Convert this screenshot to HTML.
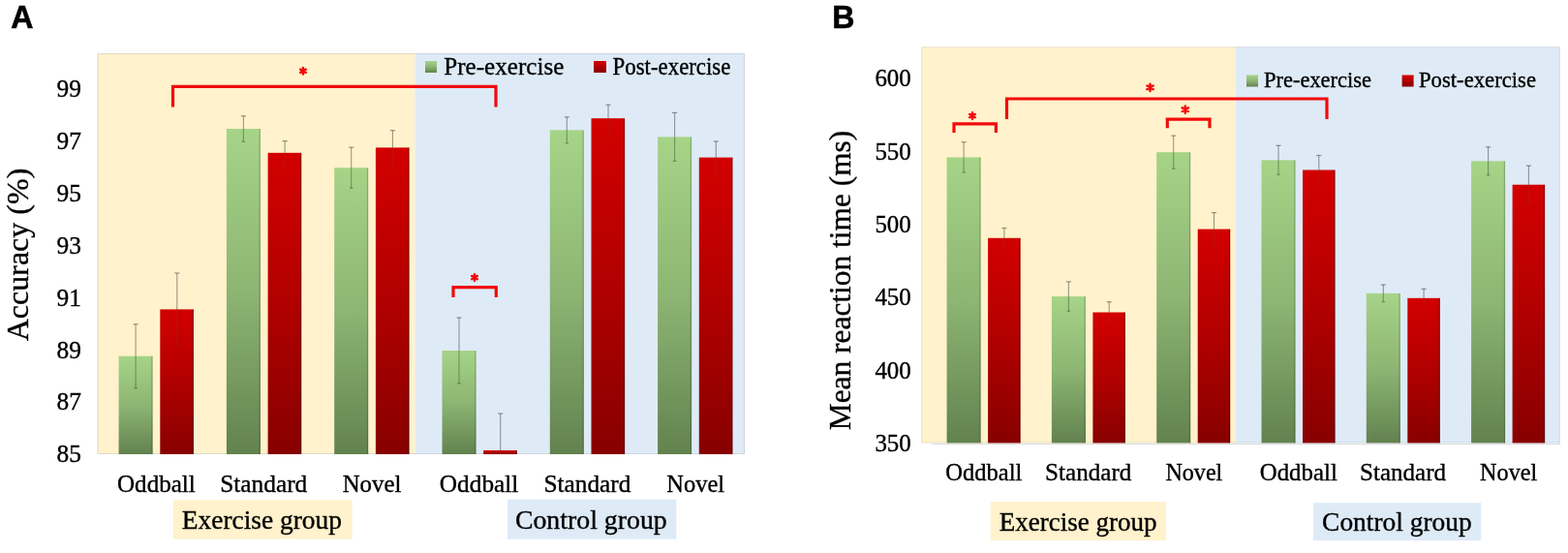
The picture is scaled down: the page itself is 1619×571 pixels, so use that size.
<!DOCTYPE html>
<html><head><meta charset="utf-8"><title>Figure</title>
<style>html,body{margin:0;padding:0;background:#fff;}body{width:1619px;height:571px;overflow:hidden;}svg{display:block;}</style>
</head><body>
<svg width="1619" height="571" viewBox="0 0 1619 571">
<defs>
<linearGradient id="gg" x1="0" y1="0" x2="0" y2="1"><stop offset="0" stop-color="#a6d487"/><stop offset="0.5" stop-color="#8db573"/><stop offset="1" stop-color="#62824f"/></linearGradient>
<linearGradient id="rg" x1="0" y1="0" x2="0" y2="1"><stop offset="0" stop-color="#d30000"/><stop offset="0.5" stop-color="#b10000"/><stop offset="1" stop-color="#870000"/></linearGradient>
</defs>
<rect width="1619" height="571" fill="#fff"/>
<text x="11.2" y="29.1" font-size="33" font-family="'Liberation Sans',Arial,sans-serif" font-weight="bold" fill="#000" text-anchor="start" textLength="23.2" lengthAdjust="spacingAndGlyphs" stroke="#000" stroke-width="0.6" >A</text>
<rect x="100.5" y="55" width="328.0" height="414" fill="#fff2cc"/>
<rect x="428.5" y="55" width="340.5" height="414" fill="#deebf7"/>
<rect x="101.0" y="55.5" width="667.5" height="413" fill="none" stroke="#b8bcc0" stroke-opacity="0.45" stroke-width="1"/>
<text x="84.0" y="477.3" font-size="25" font-family="'Liberation Serif','Times New Roman',serif" font-weight="normal" fill="#000" text-anchor="end" textLength="25.4" lengthAdjust="spacingAndGlyphs" stroke="#000" stroke-width="0.35" >85</text>
<text x="84.0" y="423.4" font-size="25" font-family="'Liberation Serif','Times New Roman',serif" font-weight="normal" fill="#000" text-anchor="end" textLength="25.4" lengthAdjust="spacingAndGlyphs" stroke="#000" stroke-width="0.35" >87</text>
<text x="84.0" y="369.6" font-size="25" font-family="'Liberation Serif','Times New Roman',serif" font-weight="normal" fill="#000" text-anchor="end" textLength="25.4" lengthAdjust="spacingAndGlyphs" stroke="#000" stroke-width="0.35" >89</text>
<text x="84.0" y="315.7" font-size="25" font-family="'Liberation Serif','Times New Roman',serif" font-weight="normal" fill="#000" text-anchor="end" textLength="25.4" lengthAdjust="spacingAndGlyphs" stroke="#000" stroke-width="0.35" >91</text>
<text x="84.0" y="261.9" font-size="25" font-family="'Liberation Serif','Times New Roman',serif" font-weight="normal" fill="#000" text-anchor="end" textLength="25.4" lengthAdjust="spacingAndGlyphs" stroke="#000" stroke-width="0.35" >93</text>
<text x="84.0" y="208.0" font-size="25" font-family="'Liberation Serif','Times New Roman',serif" font-weight="normal" fill="#000" text-anchor="end" textLength="25.4" lengthAdjust="spacingAndGlyphs" stroke="#000" stroke-width="0.35" >95</text>
<text x="84.0" y="154.1" font-size="25" font-family="'Liberation Serif','Times New Roman',serif" font-weight="normal" fill="#000" text-anchor="end" textLength="25.4" lengthAdjust="spacingAndGlyphs" stroke="#000" stroke-width="0.35" >97</text>
<text x="84.0" y="100.3" font-size="25" font-family="'Liberation Serif','Times New Roman',serif" font-weight="normal" fill="#000" text-anchor="end" textLength="25.4" lengthAdjust="spacingAndGlyphs" stroke="#000" stroke-width="0.35" >99</text>
<text x="0.0" y="0.0" font-size="32" font-family="'Liberation Serif','Times New Roman',serif" font-weight="normal" fill="#000" text-anchor="middle" textLength="178.6" lengthAdjust="spacingAndGlyphs" stroke="#000" stroke-width="0.35" transform="translate(28.8,263.0) rotate(-90)">Accuracy (%)</text>
<rect x="122.6" y="367.7" width="35.0" height="101.3" fill="url(#gg)"/>
<rect x="156.3" y="367.7" width="1.3" height="101.3" fill="#000" fill-opacity="0.18"/>
<rect x="165.3" y="319.4" width="34.6" height="149.6" fill="url(#rg)"/>
<rect x="198.6" y="319.4" width="1.3" height="149.6" fill="#000" fill-opacity="0.3"/>
<g stroke="#000" stroke-opacity="0.38" stroke-width="1.1"><line x1="140.1" y1="334.7" x2="140.1" y2="367.7"/><line x1="140.1" y1="367.7" x2="140.1" y2="400.7" stroke="#000" stroke-opacity="0.3"/><line x1="137.5" y1="334.7" x2="142.7" y2="334.7" stroke-width="1.2"/><line x1="138.3" y1="400.7" x2="141.9" y2="400.7" stroke-width="1.2" stroke="#000" stroke-opacity="0.3"/></g>
<g stroke="#000" stroke-opacity="0.38" stroke-width="1.1"><line x1="182.8" y1="282.0" x2="182.8" y2="319.4"/><line x1="182.8" y1="319.4" x2="182.8" y2="356.8" stroke="#555" stroke-opacity="0.2"/><line x1="180.2" y1="282.0" x2="185.4" y2="282.0" stroke-width="1.2"/><line x1="181.0" y1="356.8" x2="184.6" y2="356.8" stroke-width="1.2" stroke="#555" stroke-opacity="0.2"/></g>
<rect x="233.9" y="133.0" width="35.0" height="336.0" fill="url(#gg)"/>
<rect x="267.6" y="133.0" width="1.3" height="336.0" fill="#000" fill-opacity="0.18"/>
<rect x="276.6" y="157.8" width="34.6" height="311.2" fill="url(#rg)"/>
<rect x="309.9" y="157.8" width="1.3" height="311.2" fill="#000" fill-opacity="0.3"/>
<g stroke="#000" stroke-opacity="0.38" stroke-width="1.1"><line x1="251.4" y1="119.7" x2="251.4" y2="133.0"/><line x1="251.4" y1="133.0" x2="251.4" y2="146.3" stroke="#000" stroke-opacity="0.3"/><line x1="248.8" y1="119.7" x2="254.0" y2="119.7" stroke-width="1.2"/><line x1="249.6" y1="146.3" x2="253.2" y2="146.3" stroke-width="1.2" stroke="#000" stroke-opacity="0.3"/></g>
<g stroke="#000" stroke-opacity="0.38" stroke-width="1.1"><line x1="294.1" y1="145.6" x2="294.1" y2="157.8"/><line x1="294.1" y1="157.8" x2="294.1" y2="170.0" stroke="#555" stroke-opacity="0.2"/><line x1="291.5" y1="145.6" x2="296.7" y2="145.6" stroke-width="1.2"/><line x1="292.3" y1="170.0" x2="295.9" y2="170.0" stroke-width="1.2" stroke="#555" stroke-opacity="0.2"/></g>
<rect x="345.2" y="173.2" width="35.0" height="295.8" fill="url(#gg)"/>
<rect x="378.9" y="173.2" width="1.3" height="295.8" fill="#000" fill-opacity="0.18"/>
<rect x="387.9" y="152.4" width="34.6" height="316.6" fill="url(#rg)"/>
<rect x="421.2" y="152.4" width="1.3" height="316.6" fill="#000" fill-opacity="0.3"/>
<g stroke="#000" stroke-opacity="0.38" stroke-width="1.1"><line x1="362.7" y1="152.2" x2="362.7" y2="173.2"/><line x1="362.7" y1="173.2" x2="362.7" y2="194.2" stroke="#000" stroke-opacity="0.3"/><line x1="360.1" y1="152.2" x2="365.3" y2="152.2" stroke-width="1.2"/><line x1="360.9" y1="194.2" x2="364.5" y2="194.2" stroke-width="1.2" stroke="#000" stroke-opacity="0.3"/></g>
<g stroke="#000" stroke-opacity="0.38" stroke-width="1.1"><line x1="405.4" y1="134.7" x2="405.4" y2="152.4"/><line x1="405.4" y1="152.4" x2="405.4" y2="170.1" stroke="#555" stroke-opacity="0.2"/><line x1="402.8" y1="134.7" x2="408.0" y2="134.7" stroke-width="1.2"/><line x1="403.6" y1="170.1" x2="407.2" y2="170.1" stroke-width="1.2" stroke="#555" stroke-opacity="0.2"/></g>
<rect x="456.5" y="362.0" width="35.0" height="107.0" fill="url(#gg)"/>
<rect x="490.2" y="362.0" width="1.3" height="107.0" fill="#000" fill-opacity="0.18"/>
<rect x="499.2" y="465.0" width="34.6" height="4.0" fill="url(#rg)"/>
<rect x="532.5" y="465.0" width="1.3" height="4.0" fill="#000" fill-opacity="0.3"/>
<g stroke="#000" stroke-opacity="0.38" stroke-width="1.1"><line x1="474.0" y1="328.0" x2="474.0" y2="362.0"/><line x1="474.0" y1="362.0" x2="474.0" y2="396.0" stroke="#000" stroke-opacity="0.3"/><line x1="471.4" y1="328.0" x2="476.6" y2="328.0" stroke-width="1.2"/><line x1="472.2" y1="396.0" x2="475.8" y2="396.0" stroke-width="1.2" stroke="#000" stroke-opacity="0.3"/></g>
<g stroke="#000" stroke-opacity="0.38" stroke-width="1.1"><line x1="516.7" y1="427.0" x2="516.7" y2="465.0"/><line x1="516.7" y1="465.0" x2="516.7" y2="469.0" stroke="#555" stroke-opacity="0.2"/><line x1="514.1" y1="427.0" x2="519.3" y2="427.0" stroke-width="1.2"/></g>
<rect x="567.8" y="134.3" width="35.0" height="334.7" fill="url(#gg)"/>
<rect x="601.5" y="134.3" width="1.3" height="334.7" fill="#000" fill-opacity="0.18"/>
<rect x="610.5" y="122.2" width="34.6" height="346.8" fill="url(#rg)"/>
<rect x="643.8" y="122.2" width="1.3" height="346.8" fill="#000" fill-opacity="0.3"/>
<g stroke="#000" stroke-opacity="0.38" stroke-width="1.1"><line x1="585.3" y1="120.8" x2="585.3" y2="134.3"/><line x1="585.3" y1="134.3" x2="585.3" y2="147.8" stroke="#000" stroke-opacity="0.3"/><line x1="582.7" y1="120.8" x2="587.9" y2="120.8" stroke-width="1.2"/><line x1="583.5" y1="147.8" x2="587.1" y2="147.8" stroke-width="1.2" stroke="#000" stroke-opacity="0.3"/></g>
<g stroke="#000" stroke-opacity="0.38" stroke-width="1.1"><line x1="628.0" y1="108.2" x2="628.0" y2="122.2"/><line x1="628.0" y1="122.2" x2="628.0" y2="136.2" stroke="#555" stroke-opacity="0.2"/><line x1="625.4" y1="108.2" x2="630.6" y2="108.2" stroke-width="1.2"/><line x1="626.2" y1="136.2" x2="629.8" y2="136.2" stroke-width="1.2" stroke="#555" stroke-opacity="0.2"/></g>
<rect x="679.1" y="141.4" width="35.0" height="327.6" fill="url(#gg)"/>
<rect x="712.8" y="141.4" width="1.3" height="327.6" fill="#000" fill-opacity="0.18"/>
<rect x="721.8" y="162.6" width="34.6" height="306.4" fill="url(#rg)"/>
<rect x="755.1" y="162.6" width="1.3" height="306.4" fill="#000" fill-opacity="0.3"/>
<g stroke="#000" stroke-opacity="0.38" stroke-width="1.1"><line x1="696.6" y1="116.4" x2="696.6" y2="141.4"/><line x1="696.6" y1="141.4" x2="696.6" y2="166.4" stroke="#000" stroke-opacity="0.3"/><line x1="694.0" y1="116.4" x2="699.2" y2="116.4" stroke-width="1.2"/><line x1="694.8" y1="166.4" x2="698.4" y2="166.4" stroke-width="1.2" stroke="#000" stroke-opacity="0.3"/></g>
<g stroke="#000" stroke-opacity="0.38" stroke-width="1.1"><line x1="739.3" y1="145.9" x2="739.3" y2="162.6"/><line x1="739.3" y1="162.6" x2="739.3" y2="179.3" stroke="#555" stroke-opacity="0.2"/><line x1="736.7" y1="145.9" x2="741.9" y2="145.9" stroke-width="1.2"/><line x1="737.5" y1="179.3" x2="741.1" y2="179.3" stroke-width="1.2" stroke="#555" stroke-opacity="0.2"/></g>
<path d="M178.5,110.5 V89.3 H512.0 V110.5" fill="none" stroke="#f20a0a" stroke-width="3.2" stroke-linejoin="miter"/>
<path d="M313.00,70.10 L313.00,76.50 M315.77,71.70 L310.23,74.90 M315.77,74.90 L310.23,71.70 " stroke="#f20a0a" stroke-width="2.5" stroke-linecap="round"/>
<path d="M468.0,307.0 V296.6 H512.3 V307.0" fill="none" stroke="#f20a0a" stroke-width="3.2" stroke-linejoin="miter"/>
<path d="M490.00,283.30 L490.00,289.90 M492.86,284.95 L487.14,288.25 M492.86,288.25 L487.14,284.95 " stroke="#f20a0a" stroke-width="2.5" stroke-linecap="round"/>
<rect x="439" y="63" width="12" height="12" fill="url(#gg)"/>
<text x="458.3" y="77.0" font-size="25" font-family="'Liberation Serif','Times New Roman',serif" font-weight="normal" fill="#000" text-anchor="start" textLength="124.0" lengthAdjust="spacingAndGlyphs" stroke="#000" stroke-width="0.35" >Pre-exercise</text>
<rect x="613" y="63" width="13" height="12" fill="url(#rg)"/>
<text x="632.6" y="77.0" font-size="25" font-family="'Liberation Serif','Times New Roman',serif" font-weight="normal" fill="#000" text-anchor="start" textLength="121.8" lengthAdjust="spacingAndGlyphs" stroke="#000" stroke-width="0.35" >Post-exercise</text>
<text x="121.0" y="507.7" font-size="25" font-family="'Liberation Serif','Times New Roman',serif" font-weight="normal" fill="#000" text-anchor="start" textLength="80.8" lengthAdjust="spacingAndGlyphs" stroke="#000" stroke-width="0.35" >Oddball</text>
<text x="227.2" y="507.7" font-size="25" font-family="'Liberation Serif','Times New Roman',serif" font-weight="normal" fill="#000" text-anchor="start" textLength="90.1" lengthAdjust="spacingAndGlyphs" stroke="#000" stroke-width="0.35" >Standard</text>
<text x="353.7" y="507.7" font-size="25" font-family="'Liberation Serif','Times New Roman',serif" font-weight="normal" fill="#000" text-anchor="start" textLength="60.7" lengthAdjust="spacingAndGlyphs" stroke="#000" stroke-width="0.35" >Novel</text>
<text x="453.8" y="507.7" font-size="25" font-family="'Liberation Serif','Times New Roman',serif" font-weight="normal" fill="#000" text-anchor="start" textLength="81.6" lengthAdjust="spacingAndGlyphs" stroke="#000" stroke-width="0.35" >Oddball</text>
<text x="561.4" y="507.7" font-size="25" font-family="'Liberation Serif','Times New Roman',serif" font-weight="normal" fill="#000" text-anchor="start" textLength="90.1" lengthAdjust="spacingAndGlyphs" stroke="#000" stroke-width="0.35" >Standard</text>
<text x="688.3" y="507.7" font-size="25" font-family="'Liberation Serif','Times New Roman',serif" font-weight="normal" fill="#000" text-anchor="start" textLength="59.8" lengthAdjust="spacingAndGlyphs" stroke="#000" stroke-width="0.35" >Novel</text>
<rect x="178.7" y="516.3" width="184.8" height="40.3" fill="#fff2cc"/>
<text x="187.8" y="546.1" font-size="27" font-family="'Liberation Serif','Times New Roman',serif" font-weight="normal" fill="#000" text-anchor="start" textLength="165.2" lengthAdjust="spacingAndGlyphs" stroke="#000" stroke-width="0.35" >Exercise group</text>
<rect x="523.9" y="515.6" width="174.5" height="41.0" fill="#deebf7"/>
<text x="531.9" y="546.1" font-size="27" font-family="'Liberation Serif','Times New Roman',serif" font-weight="normal" fill="#000" text-anchor="start" textLength="156.8" lengthAdjust="spacingAndGlyphs" stroke="#000" stroke-width="0.35" >Control group</text>
<text x="859.2" y="29.1" font-size="33" font-family="'Liberation Sans',Arial,sans-serif" font-weight="bold" fill="#000" text-anchor="start" textLength="23.2" lengthAdjust="spacingAndGlyphs" stroke="#000" stroke-width="0.6" >B</text>
<rect x="951.3" y="48.4" width="324.5" height="409.0" fill="#fff2cc"/>
<rect x="1275.8" y="48.4" width="335.1" height="409.0" fill="#deebf7"/>
<rect x="951.8" y="48.9" width="658.6" height="408.0" fill="none" stroke="#b8bcc0" stroke-opacity="0.35" stroke-width="1"/>
<text x="940.8" y="466.0" font-size="25" font-family="'Liberation Serif','Times New Roman',serif" font-weight="normal" fill="#000" text-anchor="end" textLength="37.4" lengthAdjust="spacingAndGlyphs" stroke="#000" stroke-width="0.35" >350</text>
<text x="940.8" y="390.7" font-size="25" font-family="'Liberation Serif','Times New Roman',serif" font-weight="normal" fill="#000" text-anchor="end" textLength="37.4" lengthAdjust="spacingAndGlyphs" stroke="#000" stroke-width="0.35" >400</text>
<text x="940.8" y="315.3" font-size="25" font-family="'Liberation Serif','Times New Roman',serif" font-weight="normal" fill="#000" text-anchor="end" textLength="37.4" lengthAdjust="spacingAndGlyphs" stroke="#000" stroke-width="0.35" >450</text>
<text x="940.8" y="240.0" font-size="25" font-family="'Liberation Serif','Times New Roman',serif" font-weight="normal" fill="#000" text-anchor="end" textLength="37.4" lengthAdjust="spacingAndGlyphs" stroke="#000" stroke-width="0.35" >500</text>
<text x="940.8" y="164.6" font-size="25" font-family="'Liberation Serif','Times New Roman',serif" font-weight="normal" fill="#000" text-anchor="end" textLength="37.4" lengthAdjust="spacingAndGlyphs" stroke="#000" stroke-width="0.35" >550</text>
<text x="940.8" y="89.3" font-size="25" font-family="'Liberation Serif','Times New Roman',serif" font-weight="normal" fill="#000" text-anchor="end" textLength="37.4" lengthAdjust="spacingAndGlyphs" stroke="#000" stroke-width="0.35" >600</text>
<text x="0.0" y="0.0" font-size="32" font-family="'Liberation Serif','Times New Roman',serif" font-weight="normal" fill="#000" text-anchor="middle" textLength="309.5" lengthAdjust="spacingAndGlyphs" stroke="#000" stroke-width="0.35" transform="translate(878.2,289.5) rotate(-90)">Mean reaction time (ms)</text>
<rect x="977.6" y="162.4" width="35.0" height="295.0" fill="url(#gg)"/>
<rect x="1011.3" y="162.4" width="1.3" height="295.0" fill="#000" fill-opacity="0.18"/>
<rect x="1020.1" y="245.8" width="33.5" height="211.6" fill="url(#rg)"/>
<rect x="1052.3" y="245.8" width="1.3" height="211.6" fill="#000" fill-opacity="0.3"/>
<g stroke="#000" stroke-opacity="0.38" stroke-width="1.1"><line x1="995.1" y1="146.7" x2="995.1" y2="162.4"/><line x1="995.1" y1="162.4" x2="995.1" y2="178.1" stroke="#000" stroke-opacity="0.3"/><line x1="992.5" y1="146.7" x2="997.7" y2="146.7" stroke-width="1.2"/><line x1="993.3" y1="178.1" x2="996.9" y2="178.1" stroke-width="1.2" stroke="#000" stroke-opacity="0.3"/></g>
<g stroke="#000" stroke-opacity="0.38" stroke-width="1.1"><line x1="1036.9" y1="235.5" x2="1036.9" y2="245.8"/><line x1="1036.9" y1="245.8" x2="1036.9" y2="256.1" stroke="#555" stroke-opacity="0.2"/><line x1="1034.3" y1="235.5" x2="1039.5" y2="235.5" stroke-width="1.2"/><line x1="1035.1" y1="256.1" x2="1038.7" y2="256.1" stroke-width="1.2" stroke="#555" stroke-opacity="0.2"/></g>
<rect x="1085.9" y="306.1" width="35.0" height="151.3" fill="url(#gg)"/>
<rect x="1119.6" y="306.1" width="1.3" height="151.3" fill="#000" fill-opacity="0.18"/>
<rect x="1128.4" y="322.5" width="33.5" height="134.9" fill="url(#rg)"/>
<rect x="1160.6" y="322.5" width="1.3" height="134.9" fill="#000" fill-opacity="0.3"/>
<g stroke="#000" stroke-opacity="0.38" stroke-width="1.1"><line x1="1103.4" y1="290.9" x2="1103.4" y2="306.1"/><line x1="1103.4" y1="306.1" x2="1103.4" y2="321.3" stroke="#000" stroke-opacity="0.3"/><line x1="1100.8" y1="290.9" x2="1106.0" y2="290.9" stroke-width="1.2"/><line x1="1101.6" y1="321.3" x2="1105.2" y2="321.3" stroke-width="1.2" stroke="#000" stroke-opacity="0.3"/></g>
<g stroke="#000" stroke-opacity="0.38" stroke-width="1.1"><line x1="1145.2" y1="311.7" x2="1145.2" y2="322.5"/><line x1="1145.2" y1="322.5" x2="1145.2" y2="333.3" stroke="#555" stroke-opacity="0.2"/><line x1="1142.6" y1="311.7" x2="1147.8" y2="311.7" stroke-width="1.2"/><line x1="1143.4" y1="333.3" x2="1147.0" y2="333.3" stroke-width="1.2" stroke="#555" stroke-opacity="0.2"/></g>
<rect x="1194.2" y="157.2" width="35.0" height="300.2" fill="url(#gg)"/>
<rect x="1227.9" y="157.2" width="1.3" height="300.2" fill="#000" fill-opacity="0.18"/>
<rect x="1236.7" y="236.6" width="33.5" height="220.8" fill="url(#rg)"/>
<rect x="1268.9" y="236.6" width="1.3" height="220.8" fill="#000" fill-opacity="0.3"/>
<g stroke="#000" stroke-opacity="0.38" stroke-width="1.1"><line x1="1211.7" y1="140.1" x2="1211.7" y2="157.2"/><line x1="1211.7" y1="157.2" x2="1211.7" y2="174.3" stroke="#000" stroke-opacity="0.3"/><line x1="1209.1" y1="140.1" x2="1214.3" y2="140.1" stroke-width="1.2"/><line x1="1209.9" y1="174.3" x2="1213.5" y2="174.3" stroke-width="1.2" stroke="#000" stroke-opacity="0.3"/></g>
<g stroke="#000" stroke-opacity="0.38" stroke-width="1.1"><line x1="1253.5" y1="219.6" x2="1253.5" y2="236.6"/><line x1="1253.5" y1="236.6" x2="1253.5" y2="253.6" stroke="#555" stroke-opacity="0.2"/><line x1="1250.9" y1="219.6" x2="1256.1" y2="219.6" stroke-width="1.2"/><line x1="1251.7" y1="253.6" x2="1255.3" y2="253.6" stroke-width="1.2" stroke="#555" stroke-opacity="0.2"/></g>
<rect x="1302.5" y="165.3" width="35.0" height="292.1" fill="url(#gg)"/>
<rect x="1336.2" y="165.3" width="1.3" height="292.1" fill="#000" fill-opacity="0.18"/>
<rect x="1345.0" y="175.5" width="33.5" height="281.9" fill="url(#rg)"/>
<rect x="1377.2" y="175.5" width="1.3" height="281.9" fill="#000" fill-opacity="0.3"/>
<g stroke="#000" stroke-opacity="0.38" stroke-width="1.1"><line x1="1320.0" y1="150.3" x2="1320.0" y2="165.3"/><line x1="1320.0" y1="165.3" x2="1320.0" y2="180.3" stroke="#000" stroke-opacity="0.3"/><line x1="1317.4" y1="150.3" x2="1322.6" y2="150.3" stroke-width="1.2"/><line x1="1318.2" y1="180.3" x2="1321.8" y2="180.3" stroke-width="1.2" stroke="#000" stroke-opacity="0.3"/></g>
<g stroke="#000" stroke-opacity="0.38" stroke-width="1.1"><line x1="1361.8" y1="160.5" x2="1361.8" y2="175.5"/><line x1="1361.8" y1="175.5" x2="1361.8" y2="190.5" stroke="#555" stroke-opacity="0.2"/><line x1="1359.2" y1="160.5" x2="1364.4" y2="160.5" stroke-width="1.2"/><line x1="1360.0" y1="190.5" x2="1363.6" y2="190.5" stroke-width="1.2" stroke="#555" stroke-opacity="0.2"/></g>
<rect x="1410.8" y="302.9" width="35.0" height="154.5" fill="url(#gg)"/>
<rect x="1444.5" y="302.9" width="1.3" height="154.5" fill="#000" fill-opacity="0.18"/>
<rect x="1453.3" y="307.8" width="33.5" height="149.6" fill="url(#rg)"/>
<rect x="1485.5" y="307.8" width="1.3" height="149.6" fill="#000" fill-opacity="0.3"/>
<g stroke="#000" stroke-opacity="0.38" stroke-width="1.1"><line x1="1428.3" y1="294.1" x2="1428.3" y2="302.9"/><line x1="1428.3" y1="302.9" x2="1428.3" y2="311.7" stroke="#000" stroke-opacity="0.3"/><line x1="1425.7" y1="294.1" x2="1430.9" y2="294.1" stroke-width="1.2"/><line x1="1426.5" y1="311.7" x2="1430.1" y2="311.7" stroke-width="1.2" stroke="#000" stroke-opacity="0.3"/></g>
<g stroke="#000" stroke-opacity="0.38" stroke-width="1.1"><line x1="1470.1" y1="298.3" x2="1470.1" y2="307.8"/><line x1="1470.1" y1="307.8" x2="1470.1" y2="317.3" stroke="#555" stroke-opacity="0.2"/><line x1="1467.5" y1="298.3" x2="1472.7" y2="298.3" stroke-width="1.2"/><line x1="1468.3" y1="317.3" x2="1471.9" y2="317.3" stroke-width="1.2" stroke="#555" stroke-opacity="0.2"/></g>
<rect x="1519.1" y="166.3" width="35.0" height="291.1" fill="url(#gg)"/>
<rect x="1552.8" y="166.3" width="1.3" height="291.1" fill="#000" fill-opacity="0.18"/>
<rect x="1561.6" y="190.7" width="33.5" height="266.7" fill="url(#rg)"/>
<rect x="1593.8" y="190.7" width="1.3" height="266.7" fill="#000" fill-opacity="0.3"/>
<g stroke="#000" stroke-opacity="0.38" stroke-width="1.1"><line x1="1536.6" y1="151.8" x2="1536.6" y2="166.3"/><line x1="1536.6" y1="166.3" x2="1536.6" y2="180.8" stroke="#000" stroke-opacity="0.3"/><line x1="1534.0" y1="151.8" x2="1539.2" y2="151.8" stroke-width="1.2"/><line x1="1534.8" y1="180.8" x2="1538.4" y2="180.8" stroke-width="1.2" stroke="#000" stroke-opacity="0.3"/></g>
<g stroke="#000" stroke-opacity="0.38" stroke-width="1.1"><line x1="1578.4" y1="171.1" x2="1578.4" y2="190.7"/><line x1="1578.4" y1="190.7" x2="1578.4" y2="210.3" stroke="#555" stroke-opacity="0.2"/><line x1="1575.8" y1="171.1" x2="1581.0" y2="171.1" stroke-width="1.2"/><line x1="1576.6" y1="210.3" x2="1580.2" y2="210.3" stroke-width="1.2" stroke="#555" stroke-opacity="0.2"/></g>
<line x1="962" y1="458.6" x2="1611" y2="458.6" stroke="#d9d9d9" stroke-width="1"/>
<path d="M985.0,137.0 V127.8 H1028.4 V137.0" fill="none" stroke="#f20a0a" stroke-width="3.2" stroke-linejoin="miter"/>
<path d="M1004.00,116.30 L1004.00,122.90 M1006.86,117.95 L1001.14,121.25 M1006.86,121.25 L1001.14,117.95 " stroke="#f20a0a" stroke-width="2.5" stroke-linecap="round"/>
<path d="M1039.5,123.0 V102.0 H1370.0 V123.0" fill="none" stroke="#f20a0a" stroke-width="3.2" stroke-linejoin="miter"/>
<path d="M1187.50,86.70 L1187.50,93.90 M1190.62,88.50 L1184.38,92.10 M1190.62,92.10 L1184.38,88.50 " stroke="#f20a0a" stroke-width="2.5" stroke-linecap="round"/>
<path d="M1205.3,132.2 V123.1 H1249.0 V132.2" fill="none" stroke="#f20a0a" stroke-width="3.2" stroke-linejoin="miter"/>
<path d="M1223.80,109.60 L1223.80,116.80 M1226.92,111.40 L1220.68,115.00 M1226.92,115.00 L1220.68,111.40 " stroke="#f20a0a" stroke-width="2.5" stroke-linecap="round"/>
<rect x="1287" y="77.5" width="12" height="12" fill="url(#gg)"/>
<text x="1305.0" y="89.6" font-size="23" font-family="'Liberation Serif','Times New Roman',serif" font-weight="normal" fill="#000" text-anchor="start" textLength="111.0" lengthAdjust="spacingAndGlyphs" stroke="#000" stroke-width="0.35" >Pre-exercise</text>
<rect x="1447.6" y="77.5" width="12" height="12" fill="url(#rg)"/>
<text x="1465.0" y="89.6" font-size="23" font-family="'Liberation Serif','Times New Roman',serif" font-weight="normal" fill="#000" text-anchor="start" textLength="121.0" lengthAdjust="spacingAndGlyphs" stroke="#000" stroke-width="0.35" >Post-exercise</text>
<text x="976.2" y="495.7" font-size="25" font-family="'Liberation Serif','Times New Roman',serif" font-weight="normal" fill="#000" text-anchor="start" textLength="79.2" lengthAdjust="spacingAndGlyphs" stroke="#000" stroke-width="0.35" >Oddball</text>
<text x="1079.1" y="495.7" font-size="25" font-family="'Liberation Serif','Times New Roman',serif" font-weight="normal" fill="#000" text-anchor="start" textLength="89.2" lengthAdjust="spacingAndGlyphs" stroke="#000" stroke-width="0.35" >Standard</text>
<text x="1203.4" y="495.7" font-size="25" font-family="'Liberation Serif','Times New Roman',serif" font-weight="normal" fill="#000" text-anchor="start" textLength="58.9" lengthAdjust="spacingAndGlyphs" stroke="#000" stroke-width="0.35" >Novel</text>
<text x="1300.7" y="495.7" font-size="25" font-family="'Liberation Serif','Times New Roman',serif" font-weight="normal" fill="#000" text-anchor="start" textLength="80.1" lengthAdjust="spacingAndGlyphs" stroke="#000" stroke-width="0.35" >Oddball</text>
<text x="1404.1" y="495.7" font-size="25" font-family="'Liberation Serif','Times New Roman',serif" font-weight="normal" fill="#000" text-anchor="start" textLength="88.9" lengthAdjust="spacingAndGlyphs" stroke="#000" stroke-width="0.35" >Standard</text>
<text x="1528.1" y="495.7" font-size="25" font-family="'Liberation Serif','Times New Roman',serif" font-weight="normal" fill="#000" text-anchor="start" textLength="59.2" lengthAdjust="spacingAndGlyphs" stroke="#000" stroke-width="0.35" >Novel</text>
<rect x="1022.6" y="518" width="181.2" height="40.1" fill="#fff2cc"/>
<text x="1031.8" y="547.8" font-size="27" font-family="'Liberation Serif','Times New Roman',serif" font-weight="normal" fill="#000" text-anchor="start" textLength="162.8" lengthAdjust="spacingAndGlyphs" stroke="#000" stroke-width="0.35" >Exercise group</text>
<rect x="1356" y="519.2" width="173.3" height="39.0" fill="#deebf7"/>
<text x="1365.1" y="547.8" font-size="27" font-family="'Liberation Serif','Times New Roman',serif" font-weight="normal" fill="#000" text-anchor="start" textLength="154.6" lengthAdjust="spacingAndGlyphs" stroke="#000" stroke-width="0.35" >Control group</text>
</svg>
</body></html>
